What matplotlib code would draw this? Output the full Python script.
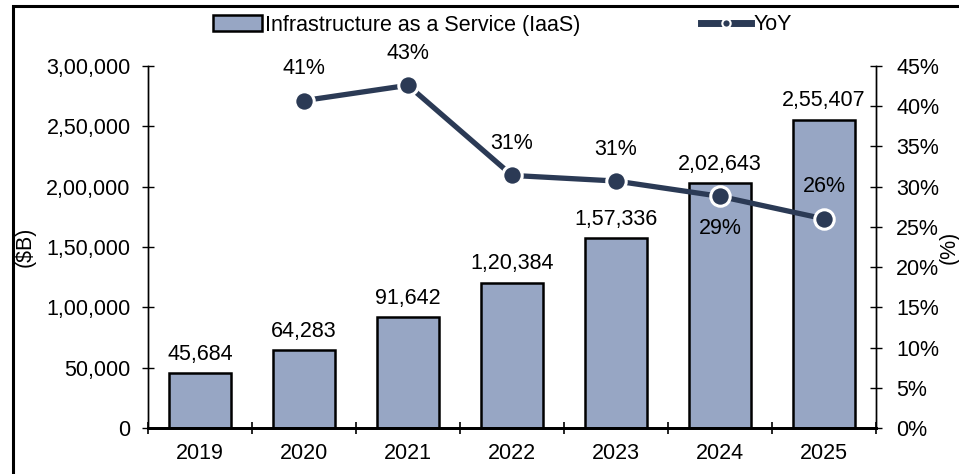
import matplotlib.pyplot as plt
from matplotlib.patches import Rectangle
from matplotlib.lines import Line2D
from matplotlib.ticker import FuncFormatter, FixedLocator

plt.rcParams['font.family'] = ['Liberation Sans', 'DejaVu Sans']
plt.rcParams['font.size'] = 15.5

years = ["2019", "2020", "2021", "2022", "2023", "2024", "2025"]
iaas = [45684, 64283, 91642, 120384, 157336, 202643, 255407]
yoy_years = ["2020", "2021", "2022", "2023", "2024", "2025"]
yoy = [40.7, 42.6, 31.4, 30.7, 28.8, 26.0]
yoy_label_below = [False, False, False, False, True, False]

BAR_COLOR = "#97a6c4"
LINE_COLOR = "#2b3a55"


def indian_format(v):
    # 1,57,336 style grouping
    s = str(int(round(v)))
    if len(s) <= 3:
        return s
    head, tail = s[:-3], s[-3:]
    groups = []
    while len(head) > 2:
        groups.insert(0, head[-2:])
        head = head[:-2]
    if head:
        groups.insert(0, head)
    return ",".join(groups) + "," + tail


fig = plt.figure(figsize=(9.59, 4.74), dpi=100)
ax = fig.add_axes([148 / 959, 1 - 428 / 474, 728 / 959, 362 / 474])
ax2 = ax.twinx()

x = list(range(len(years)))
bars = ax.bar(x, iaas, width=0.6, color=BAR_COLOR, edgecolor="black",
              linewidth=1.8, label="Infrastructure as a Service (IaaS)", zorder=2)
for xi, v in zip(x, iaas):
    ax.annotate(indian_format(v), (xi, v), xytext=(0, 6), textcoords="offset points",
                ha="center", va="bottom")

ax.set_xlim(-0.5, len(years) - 0.5)
ax.set_ylim(0, 300000)
ax.set_yticks(range(0, 300001, 50000))
ax.yaxis.set_major_formatter(FuncFormatter(lambda v, p: indian_format(v)))
ax.set_xticks(x)
ax.set_xticklabels(years)
ax.xaxis.set_minor_locator(FixedLocator([i + 0.5 for i in range(-1, len(years))]))
ax.tick_params(axis="x", which="major", length=0, pad=11)
ax.tick_params(axis="x", which="minor", direction="inout", length=9, width=1.2)
ax.tick_params(axis="y", direction="inout", length=9, width=1, pad=8)
ax.set_ylabel("($B)")
ax.yaxis.set_label_coords(-0.154, 0.5)

for a in (ax, ax2):
    a.spines["top"].set_visible(False)
    a.spines["left"].set_linewidth(1)
    a.spines["right"].set_linewidth(1)
    a.spines["bottom"].set_linewidth(2)

xi_yoy = [years.index(y) for y in yoy_years]
ax2.plot(xi_yoy, yoy, color=LINE_COLOR, linewidth=3.8, marker="o", markersize=14,
         markerfacecolor=LINE_COLOR, markeredgecolor="white", markeredgewidth=2.2,
         zorder=3)
for xi, v, below in zip(xi_yoy, yoy, yoy_label_below):
    ax2.annotate(f"{round(v):.0f}%", (xi, v), xytext=(0, -23 if below else 23),
                 textcoords="offset points", ha="center", va="center")

ax2.set_ylim(0, 45)
ax2.set_yticks(range(0, 46, 5))
ax2.yaxis.set_major_formatter(FuncFormatter(lambda v, p: f"{v:.0f}%"))
ax2.tick_params(axis="y", direction="inout", length=9, width=1, pad=10)
ax2.set_ylabel("(%)")
ax2.yaxis.set_label_coords(1.0865, 0.5)

# legend: bar patch plus a short thick line with a small dot
yoy_handle = Line2D([], [], color=LINE_COLOR, linewidth=5, marker="o", markersize=6,
                    markerfacecolor=LINE_COLOR, markeredgecolor="white",
                    markeredgewidth=1.5)
fig.legend([bars, yoy_handle], ["Infrastructure as a Service (IaaS)", "YoY"],
           loc="center", bbox_to_anchor=(0.524, 1 - 25 / 474), ncol=2,
           frameon=False, handlelength=2.3, handletextpad=0.15, columnspacing=5.6)

# outer frame around the figure
fig.patches.append(Rectangle((12.5 / 959, -0.1), 1.2, 1.1 - 6.5 / 474,
                             transform=fig.transFigure, fill=False,
                             edgecolor="black", linewidth=2.2))

fig.savefig("out.png", dpi=100)
